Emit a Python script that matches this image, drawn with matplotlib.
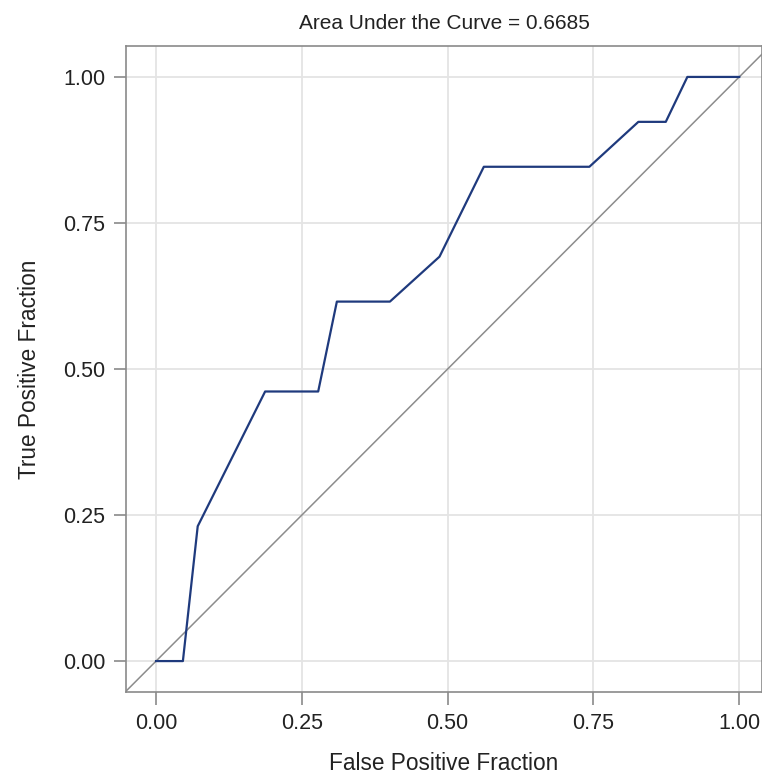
import numpy as np
import matplotlib
matplotlib.use('Agg')
import matplotlib.pyplot as plt

matplotlib.rc('font', **{'family': ['Liberation Sans', 'DejaVu Sans'], 'size': 15.5})

# ROC curve
fpf = [0.0, 0.046, 0.0714, 0.187, 0.278, 0.310, 0.401, 0.486, 0.562, 0.743, 0.827, 0.874, 0.911, 1.0]
tpf = [0.0, 0.0, 0.2308, 0.4615, 0.4615, 0.6154, 0.6154, 0.6923, 0.8462, 0.8462, 0.9231, 0.9231, 1.0, 1.0]
auc = 0.6685
ticks = [0.0, 0.25, 0.5, 0.75, 1.0]
tick_labels = ['0.00', '0.25', '0.50', '0.75', '1.00']

fig = plt.figure(figsize=(7.62, 7.74), dpi=100)
ax = fig.add_axes([0.1654, 0.1059, 0.8346, 0.8347])

xlim = (-0.0515, 1.039)
ylim = (-0.053, 1.053)
ax.plot([-0.1, 1.1], [-0.1, 1.1], color='#8c8c8c', lw=1.1, zorder=2)
ax.plot(fpf, tpf, color='#1f3a7d', lw=1.6, zorder=3)

ax.set_xlim(*xlim)
ax.set_ylim(*ylim)
ax.set_xticks(ticks)
ax.set_xticklabels(tick_labels)
ax.set_yticks(ticks)
ax.set_yticklabels(tick_labels)
ax.grid(True, color='#e4e4e4', lw=1.3, zorder=0)
ax.set_axisbelow(True)
for s in ax.spines.values():
    s.set_color('#8a8a8a')
    s.set_linewidth(1.2)
ax.tick_params(colors='#8a8a8a', labelcolor='#222222', length=9, width=1.2, pad=6)

ax.set_xlabel('False Positive Fraction', color='#222222', fontsize=16.3, labelpad=13)
ax.set_ylabel('True Positive Fraction', color='#222222', fontsize=16.3, labelpad=16)
ax.set_title('Area Under the Curve = %.4f' % auc, color='#222222', fontsize=15, pad=12)

fig.savefig('out.png', dpi=100)
